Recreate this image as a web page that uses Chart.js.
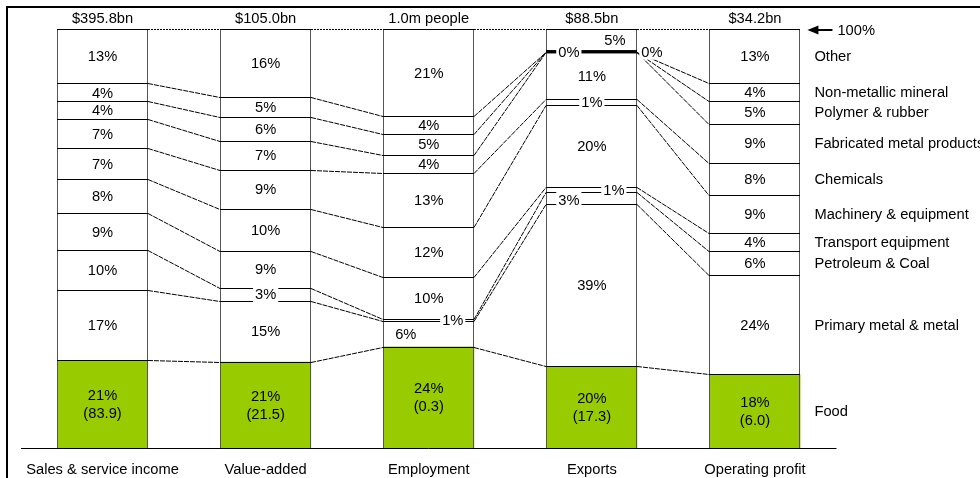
<!DOCTYPE html>
<html>
<head>
<meta charset="utf-8">
<script src="https://cdn.jsdelivr.net/npm/chart.js@4.4.0/dist/chart.umd.min.js"></script>
<style>
  body { margin: 0; background: #fff; }
  #wrap { width: 980px; height: 478px; }
</style>
</head>
<body>
<div id="wrap"><canvas id="chart" width="980" height="478"></canvas></div>
<script>
const measures = ['Sales & service income', 'Value-added', 'Employment', 'Exports', 'Operating profit'];
const totals = ['$395.8bn', '$105.0bn', '1.0m people', '$88.5bn', '$34.2bn'];

// bottom of the stack first
const industries = ['Food', 'Primary metal & metal', 'Petroleum & Coal', 'Transport equipment',
  'Machinery & equipment', 'Chemicals', 'Fabricated metal products', 'Polymer & rubber',
  'Non-metallic mineral', 'Other'];

// share of each measure (%)
const food       = [21.0, 20.6, 24.2, 19.6, 17.6];
const primary    = [16.6, 14.6,  6.0, 38.6, 23.6];
const petroleum  = [ 9.6,  3.1,  0.7,  3.0,  5.9];
const transport  = [ 8.8,  8.8,  9.9,  1.0,  4.3];
const machinery  = [ 8.2, 10.0, 11.9, 19.6,  9.0];
const chemicals  = [ 7.3,  9.3, 12.9,  1.4,  7.6];
const fabricated = [ 7.0,  6.9,  4.4, 11.4,  9.4];
const polymer    = [ 4.2,  5.7,  4.9,  0.0,  5.4];
const nonmetal   = [ 4.3,  4.8,  4.3,  0.0,  4.4];
const other      = [13.0, 16.2, 20.8,  5.4, 12.8];

// food in $bn (employment in m people)
const foodAmounts = ['83.9', '21.5', '0.3', '17.3', '6.0'];

const series = [food, primary, petroleum, transport, machinery, chemicals, fabricated, polymer, nonmetal, other];

// labels that don't fit in the middle of their segment: 'dataset,column'
const nudges = {
  '2,1': { dx: 0, box: true },
  '2,2': { dx: 24, box: true },
  '1,2': { dx: -23 },
  '9,3': { dx: 23 },
  '8,3': { dx: -23, box: true },
  '7,3': { dx: 60, box: true },
  '5,3': { dx: 0, box: true },
  '3,3': { dx: 22, box: true },
  '2,3': { dx: -23, dy: 2, box: true }
};

const FONT = '14.7px "Liberation Sans", Arial, sans-serif';
const GREEN = '#99cc00';

const overlay = {
  id: 'overlay',
  afterDatasetsDraw(chart) {
    const ctx = chart.ctx;
    const area = chart.chartArea;
    const metas = series.map((_, k) => chart.getDatasetMeta(k));
    const el = (k, i) => metas[k].data[i].getProps(['x', 'y', 'base', 'width'], true);
    const snap = y => Math.round(y) + 0.5;
    const top = series.length - 1;

    ctx.save();

    // column sides
    ctx.strokeStyle = '#555';
    ctx.lineWidth = 1;
    for (let i = 0; i < measures.length; i++) {
      const t = el(top, i), b = el(0, i);
      const l = Math.round(t.x - t.width / 2), r = Math.round(t.x + t.width / 2);
      ctx.beginPath();
      ctx.moveTo(l + 0.5, snap(t.y)); ctx.lineTo(l + 0.5, b.base);
      ctx.moveTo(r - 0.5, snap(t.y)); ctx.lineTo(r - 0.5, b.base);
      ctx.stroke();
    }

    // segment tops; zero-size segments show as a heavy line
    ctx.strokeStyle = '#000';
    series.forEach((vals, k) => vals.forEach((v, i) => {
      const e = el(k, i);
      ctx.lineWidth = v === 0 ? 3 : 1;
      const y = v === 0 ? e.y : snap(e.y);
      ctx.beginPath();
      ctx.moveTo(Math.round(e.x - e.width / 2), y);
      ctx.lineTo(Math.round(e.x + e.width / 2), y);
      ctx.stroke();
    }));

    // series lines between columns
    ctx.lineWidth = 1;
    for (let i = 0; i < measures.length - 1; i++) {
      for (let k = 0; k < series.length; k++) {
        const a = el(k, i), b = el(k, i + 1);
        ctx.setLineDash(k === top ? [2, 1] : [5, 1]);
        ctx.beginPath();
        ctx.moveTo(Math.round(a.x + a.width / 2), snap(a.y));
        ctx.lineTo(Math.round(b.x - b.width / 2), snap(b.y));
        ctx.stroke();
      }
    }
    ctx.setLineDash([]);

    // baseline
    ctx.beginPath();
    ctx.moveTo(area.left, area.bottom + 0.5);
    ctx.lineTo(area.right, area.bottom + 0.5);
    ctx.stroke();

    ctx.font = FONT;
    ctx.fillStyle = '#000';
    ctx.textAlign = 'center';
    ctx.textBaseline = 'middle';

    // segment labels
    series.forEach((vals, k) => vals.forEach((v, i) => {
      const e = el(k, i);
      const n = nudges[k + ',' + i] || {};
      const x = e.x + (n.dx || 0);
      const y = (e.y + e.base) / 2 + (n.dy || 0);
      const txt = Math.round(v) + '%';
      if (k === 0) {
        ctx.fillText(txt, x, y - 8);
        ctx.fillText('(' + foodAmounts[i] + ')', x, y + 10);
        return;
      }
      if (n.box) {
        const w = ctx.measureText(txt).width;
        ctx.fillStyle = '#fff';
        ctx.fillRect(x - w / 2 - 2, y - 8, w + 4, 16);
        ctx.fillStyle = '#000';
      }
      ctx.fillText(txt, x, y + 1);
    }));

    // totals above, measure names below
    for (let i = 0; i < measures.length; i++) {
      const x = el(0, i).x;
      ctx.fillText(totals[i], x, area.top - 10);
      ctx.fillText(measures[i], x, area.bottom + 22);
    }

    // industry names beside the last column
    const last = measures.length - 1;
    ctx.textAlign = 'left';
    series.forEach((_, k) => {
      const e = el(k, last);
      ctx.fillText(industries[k], e.x + e.width / 2 + 14, (e.y + e.base) / 2 + 1);
    });

    // 100% marker
    const e5 = el(top, last);
    const ax = e5.x + e5.width / 2 + 7;
    const ay = area.top + 1;
    ctx.beginPath();
    ctx.moveTo(ax, ay);
    ctx.lineTo(ax + 11, ay - 4.5);
    ctx.lineTo(ax + 11, ay + 4.5);
    ctx.closePath();
    ctx.fill();
    ctx.lineWidth = 2;
    ctx.beginPath();
    ctx.moveTo(ax + 8, ay); ctx.lineTo(ax + 25, ay);
    ctx.stroke();
    ctx.fillText('100%', ax + 30, ay + 1);

    // outer frame
    ctx.lineWidth = 2;
    ctx.strokeRect(7, 7, 1000, 500);

    ctx.restore();
  }
};

new Chart(document.getElementById('chart'), {
  type: 'bar',
  data: {
    labels: measures,
    datasets: series.map((vals, k) => ({
      label: industries[k],
      data: vals,
      backgroundColor: k === 0 ? GREEN : '#fff',
      borderWidth: 0,
      inflateAmount: 0,
      barThickness: 91
    }))
  },
  options: {
    responsive: false,
    animation: false,
    devicePixelRatio: 1,
    layout: { padding: { left: 21, right: 143.5, top: 29, bottom: 30 } },
    scales: {
      x: { stacked: true, display: false },
      y: { stacked: true, display: false, min: 0, max: 100 }
    },
    plugins: { legend: { display: false }, tooltip: { enabled: false } }
  },
  plugins: [overlay]
});
</script>
</body>
</html>
